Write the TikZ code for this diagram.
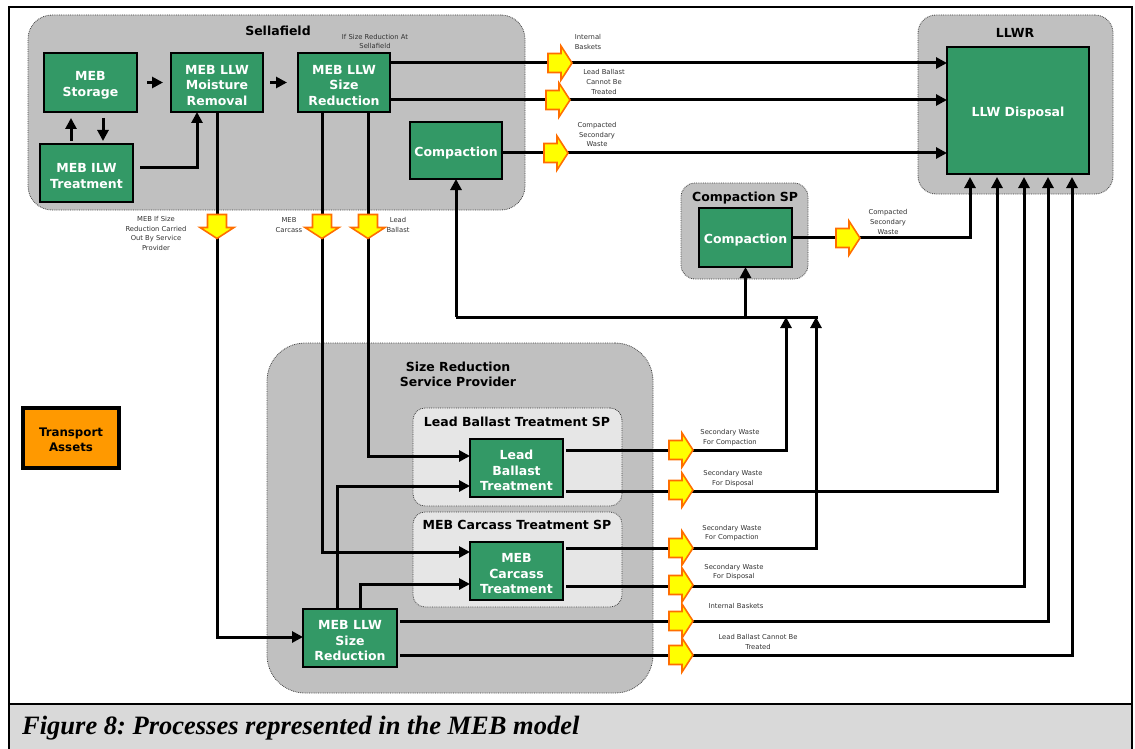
\documentclass[tikz,border=0pt]{standalone}
\usepackage{fontspec}
\newfontfamily\dvsans{DejaVu Sans}
\newfontfamily\capserif{Liberation Serif}
\usetikzlibrary{arrows.meta}
\definecolor{procgreen}{RGB}{51,153,102}
\definecolor{zonegray}{RGB}{192,192,192}
\definecolor{spgray}{RGB}{230,230,230}
\definecolor{assetorange}{RGB}{255,153,0}
\definecolor{flowyellow}{RGB}{255,255,0}
\definecolor{floworange}{RGB}{255,110,0}
\definecolor{capgray}{RGB}{217,217,217}
\definecolor{labelgray}{RGB}{50,50,50}
% tall invisible strut that lowers box text to the optical centre
\newcommand{\procstrut}{\rule{0pt}{15pt}}
\frenchspacing
\begin{document}
\begin{tikzpicture}[x=1pt,y=-1pt,
  zone/.style={draw=black!75, densely dotted, line width=0.8pt, fill=zonegray,
    rounded corners=#1, inner sep=0pt, outer sep=0pt},
  zone/.default=20pt,
  subzone/.style={zone=#1, fill=spgray},
  subzone/.default=12pt,
  proc/.style={draw=black, line width=2pt, fill=procgreen, text=white,
    font=\dvsans\bfseries\fontsize{12.5}{15.5}\selectfont, align=center,
    inner sep=0pt, outer sep=0pt},
  asset/.style={draw=black, line width=3.5pt, fill=assetorange, text=black,
    font=\dvsans\bfseries\fontsize{11.8}{15}\selectfont, align=center,
    inner sep=0pt, outer sep=0pt},
  zonetitle/.style={font=\dvsans\bfseries\fontsize{12.5}{15}\selectfont,
    align=center, inner sep=0pt},
  lbl/.style={font=\dvsans\fontsize{6.8}{9.6}\selectfont, text=labelgray,
    align=center, inner sep=0pt},
  flow/.style={line width=3pt, -{Triangle[length=11pt,width=11pt]}},
  link/.style={line width=3pt},
  yarrow/.pic={\path[draw=floworange, line width=1.6pt, fill=flowyellow, line join=miter]
    (-12,-9.5) -- (1,-9.5) -- (1,-17) -- (12,0) -- (1,17) -- (1,9.5) -- (-12,9.5) -- cycle;}
]
\useasboundingbox (0,0) rectangle (1135,749);

% caption band and outer frame
\fill[capgray] (9,704) rectangle (1132,749);
\draw[line width=2.5pt] (9,7) rectangle (1132,760);
\draw[line width=2.5pt] (9,704) -- (1132,704);
\node[anchor=west, font=\capserif\bfseries\itshape\fontsize{26.5}{30}\selectfont, inner sep=0pt]
  (caption) at (22,728) {Figure 8: Processes represented in the MEB model};

% organisational zones
\node[zone=24pt, minimum width=497pt, minimum height=195pt] (sellafield) at (276.5,112.5) {};
\node[zone=18pt, minimum width=195pt, minimum height=179pt] (llwr) at (1015.5,104.5) {};
\node[zone=14pt, minimum width=127pt, minimum height=96pt] (compsp) at (744.5,231) {};
\node[zone=38pt, minimum width=386pt, minimum height=350pt] (srsp) at (460,518) {};
\node[subzone, minimum width=209pt, minimum height=98pt] (lbsp) at (517.5,457) {};
\node[subzone, minimum width=209pt, minimum height=95pt] (mcsp) at (517.5,559.5) {};

\node[zonetitle] (sellafieldT) at (278,31) {Sellafield};
\node[zonetitle] (llwrT) at (1015,33) {LLWR};
\node[zonetitle] (compspT) at (745,198) {Compaction SP};
\node[zonetitle] (srspT) at (458,374.5) {Size Reduction\\Service Provider};
\node[zonetitle] (lbspT) at (517,422) {Lead Ballast Treatment SP};
\node[zonetitle] (mcspT) at (517,525) {MEB Carcass Treatment SP};

% process boxes
\node[proc, minimum width=93pt, minimum height=59pt] (storage) at (90.5,82.5) {\procstrut MEB\\Storage};
\node[proc, minimum width=92pt, minimum height=59pt] (moist) at (217,82.5) {\procstrut MEB LLW\\Moisture\\Removal};
\node[proc, minimum width=93pt, minimum height=58pt] (ilw) at (86.5,173) {\procstrut MEB ILW\\Treatment};
\node[proc, minimum width=92pt, minimum height=59pt] (sredA) at (344,82.5) {\procstrut MEB LLW\\Size\\Reduction};
\node[proc, minimum width=92pt, minimum height=57pt] (compA) at (456,150.5) {\procstrut Compaction};
\node[proc, minimum width=93pt, minimum height=59pt] (compB) at (745.5,237.5) {\procstrut Compaction};
\node[proc, minimum width=142pt, minimum height=127pt] (disp) at (1018,110.5) {\procstrut LLW Disposal};
\node[proc, minimum width=93pt, minimum height=58pt] (lbt) at (516.5,468) {\procstrut Lead\\Ballast\\Treatment};
\node[proc, minimum width=93pt, minimum height=58pt] (mct) at (516.5,571) {\procstrut MEB\\Carcass\\Treatment};
\node[proc, minimum width=94pt, minimum height=58pt] (sredB) at (350,638) {\procstrut MEB LLW\\Size\\Reduction};
\node[asset, minimum width=96pt, minimum height=60pt] (transport) at (71,438) {\rule{0pt}{13pt}Transport\\Assets};

% flows inside Sellafield
\draw[flow, shorten <=10pt, shorten >=8pt] (storage.east) -- (moist.west);
\draw[flow, shorten <=7pt, shorten >=11pt] (moist.east) -- (sredA.west);
\draw[flow, shorten <=3pt, shorten >=6pt] (ilw.north -| 71,0) -- (storage.south -| 71,0);
\draw[flow, shorten <=6pt, shorten >=3pt] (storage.south -| 103,0) -- (ilw.north -| 103,0);
\draw[flow, shorten <=7pt] (ilw.east |- 0,167) -| (moist.south -| 197,0);

% routes to the LLWR
\draw[flow] (sredA.east |- 0,63) -- (disp.west |- 0,63);
\draw[flow] (sredA.east |- 0,100) -- (disp.west |- 0,100);
\draw[flow] (compA.east |- 0,153) -- (disp.west |- 0,153);

% routes to the size reduction service provider
\draw[flow] (moist.south) |- (sredB.west |- 0,637);
\draw[flow] (sredA.south -| 322,0) |- (mct.west |- 0,552);
\draw[flow] (sredA.south -| 368,0) |- (lbt.west |- 0,456);
\draw[flow] (sredB.north -| 337,0) |- (lbt.west |- 0,486);
\draw[flow] (sredB.north -| 360,0) |- (mct.west |- 0,584);

% secondary waste collected for compaction
\coordinate (busL) at (456,317);
\coordinate (busR) at (816,317);
\draw[link] (busL) -- ([xshift=1.5pt]busR);
\draw[flow] (busL) -- (compA.south);
\draw[flow] (busL -| compB.south) -- (compB.south);
\draw[flow, shorten <=3pt] (lbt.east |- 0,450) -| (busL -| 786,0);
\draw[flow, shorten <=3pt] (mct.east |- 0,548) -| (busR);

% routes to LLW disposal from below
\draw[flow, shorten >=3pt] (compB.east) -| (disp.south -| 970,0);
\draw[flow, shorten <=3pt, shorten >=3pt] (lbt.east |- 0,491) -| (disp.south -| 997,0);
\draw[flow, shorten <=3pt, shorten >=3pt] (mct.east |- 0,586) -| (disp.south -| 1024,0);
\draw[flow, shorten <=3pt, shorten >=3pt] (sredB.east |- 0,621) -| (disp.south -| 1048,0);
\draw[flow, shorten <=3pt, shorten >=3pt] (sredB.east |- 0,655) -| (disp.south -| 1072,0);

% transport markers
\pic[rotate=-90] at (217,226.5) {yarrow};
\pic[rotate=-90] at (322,226.5) {yarrow};
\pic[rotate=-90] at (368,226.5) {yarrow};
\pic at (560,63) {yarrow};
\pic at (558,100) {yarrow};
\pic at (556,153) {yarrow};
\pic at (848,238) {yarrow};
\pic at (681,450) {yarrow};
\pic at (681,490) {yarrow};
\pic at (681,548) {yarrow};
\pic at (681,585) {yarrow};
\pic at (681,621) {yarrow};
\pic at (681,655) {yarrow};

% flow labels
\node[lbl] (l1) at (375,41.5) {If Size Reduction At\\Sellafield};
\node[lbl] (l2) at (156,233.5) {MEB If Size\\Reduction Carried\\Out By Service\\Provider};
\node[lbl] (l3) at (289,225) {MEB\\Carcass};
\node[lbl] (l4) at (398,225) {Lead\\Ballast};
\node[lbl] (l5) at (588,42) {Internal\\Baskets};
\node[lbl] (l6) at (604,82) {Lead Ballast\\Cannot Be\\Treated};
\node[lbl] (l7) at (597,134.5) {Compacted\\Secondary\\Waste};
\node[lbl] (l8) at (888,222) {Compacted\\Secondary\\Waste};
\node[lbl] (l9) at (730,437.5) {Secondary Waste\\For Compaction};
\node[lbl] (l10) at (733,478.5) {Secondary Waste\\For Disposal};
\node[lbl] (l11) at (732,533) {Secondary Waste\\For Compaction};
\node[lbl] (l12) at (734,572) {Secondary Waste\\For Disposal};
\node[lbl] (l13) at (736,606) {Internal Baskets};
\node[lbl] (l14) at (758,642) {Lead Ballast Cannot Be\\Treated};
\end{tikzpicture}
\end{document}
